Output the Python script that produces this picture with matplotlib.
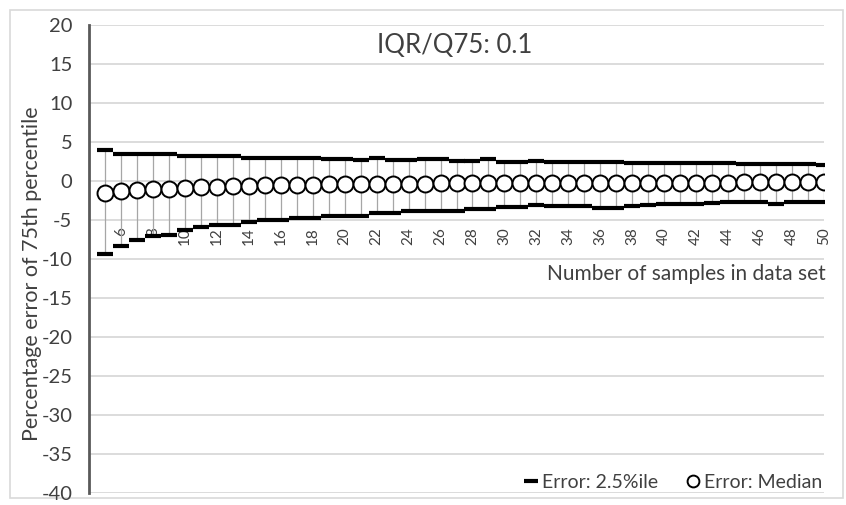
import matplotlib
matplotlib.use("Agg")
import matplotlib.pyplot as plt
from matplotlib.patches import Rectangle

plt.rcParams['font.family'] = ['Lato', 'DejaVu Sans']
plt.rcParams['axes.unicode_minus'] = False

samples = list(range(5, 51))
upper = [4.0,
         3.5, 3.5, 3.5, 3.5,
         3.15, 3.15, 3.15, 3.15,
         3.0, 3.0, 3.0, 3.0, 3.0,
         2.8, 2.8, 2.7,
         2.9, 2.7, 2.7, 2.8, 2.8,
         2.6, 2.6, 2.8,
         2.4, 2.4, 2.6,
         2.4, 2.4, 2.4, 2.4,
         2.5,
         2.3, 2.3, 2.3, 2.3, 2.3, 2.3, 2.3,
         2.2, 2.2, 2.2, 2.2, 2.2,
         2.0]
lower = [-9.4, -8.3, -7.5, -7.0, -6.9, -6.3, -5.9, -5.7, -5.7, -5.3,
         -5.0, -5.0, -4.8, -4.7, -4.5, -4.5, -4.5, -4.1, -4.1, -3.9,
         -3.8, -3.8, -3.8, -3.6, -3.6, -3.3, -3.3, -3.1, -3.2, -3.2,
         -3.2, -3.5, -3.5, -3.2, -3.1, -2.9, -2.9, -2.9, -2.8, -2.65,
         -2.65, -2.65, -3.0, -2.65, -2.65, -2.65]
median = [-1.5, -1.3, -1.1, -1.0, -1.0, -0.9, -0.8, -0.8, -0.7, -0.6,
          -0.55, -0.5, -0.5, -0.45, -0.4, -0.4, -0.4, -0.4, -0.35, -0.35,
          -0.35, -0.3, -0.3, -0.3, -0.3, -0.3, -0.3, -0.3, -0.3, -0.25,
          -0.25, -0.25, -0.25, -0.25, -0.25, -0.2, -0.2, -0.2, -0.2, -0.2,
          -0.15, -0.15, -0.15, -0.15, -0.15, -0.15]
xtick_labels = list(range(6, 51, 2))
yticks = list(range(-40, 21, 5))

W, H = 846, 505
fig = plt.figure(figsize=(W / 100, H / 100), dpi=100)
ax = fig.add_axes([89 / W, 1 - 493 / H, (824 - 89) / W, (493 - 25) / H])

# outer chart border
fig.patches.append(Rectangle((10 / W, 1 - 498 / H), 833 / W, 488 / H,
                             transform=fig.transFigure, fill=False,
                             edgecolor='#d9d9d9', linewidth=1.2, zorder=-5))

ax.set_xlim(4, 50)
ax.set_ylim(-40, 20)
ax.set_yticks(yticks)
ax.yaxis.grid(True, color='#d9d9d9', linewidth=1.3)
ax.set_axisbelow(True)

ax.vlines(samples, lower, upper, color='#a6a6a6', linewidth=0.9, zorder=2)
ax.plot(samples, upper, linestyle='none', marker='_', markersize=11.6,
        markeredgewidth=3.0, color='black', zorder=3)
ax.plot(samples, lower, linestyle='none', marker='_', markersize=11.6,
        markeredgewidth=3.0, color='black', zorder=3, label='Error: 2.5%ile')
ax.plot(samples, median, linestyle='none', marker='o', markersize=11.5,
        markerfacecolor='white', markeredgecolor='black', markeredgewidth=1.4,
        zorder=4, label='Error: Median')

for s in ['top', 'right']:
    ax.spines[s].set_visible(False)
ax.spines['bottom'].set_position(('data', -5))
ax.spines['bottom'].set_color('none')
ax.spines['left'].set_color('#595959')
ax.spines['left'].set_linewidth(2.0)

ax.set_xticks(xtick_labels)
ax.set_xticklabels([str(v) for v in xtick_labels], rotation=90, fontsize=11,
                   color='#404040')
ax.tick_params(axis='x', length=0, pad=5)
ax.tick_params(axis='y', length=0, pad=12, labelsize=14.5, labelcolor='#404040')

ax.set_ylabel('Percentage error of 75th percentile', fontsize=15.5,
              color='#404040')
ax.yaxis.set_label_coords(-47 / (824 - 89), 0.5 - 15 / 468)

ax.text(1.002, -11.9, 'Number of samples in data set', ha='right', va='center',
        fontsize=15, color='#404040', transform=ax.get_yaxis_transform())
ax.text(0.497, 0.956, 'IQR/Q75: 0.1', ha='center', va='center', fontsize=18.5,
        color='#404040', transform=ax.transAxes)

leg = ax.legend(loc='lower right', ncol=2, frameon=False, fontsize=14,
                handlelength=0.8, handletextpad=0.15, columnspacing=1.4,
                borderaxespad=-0.1, borderpad=0.2, labelcolor='#404040',
                bbox_to_anchor=(1.0, 0.0))
for h in leg.legend_handles:
    if h.get_marker() == 'o':
        h.set_markersize(8.5)
    else:
        h.set_markersize(10)

fig.savefig('out.png', dpi=100)
